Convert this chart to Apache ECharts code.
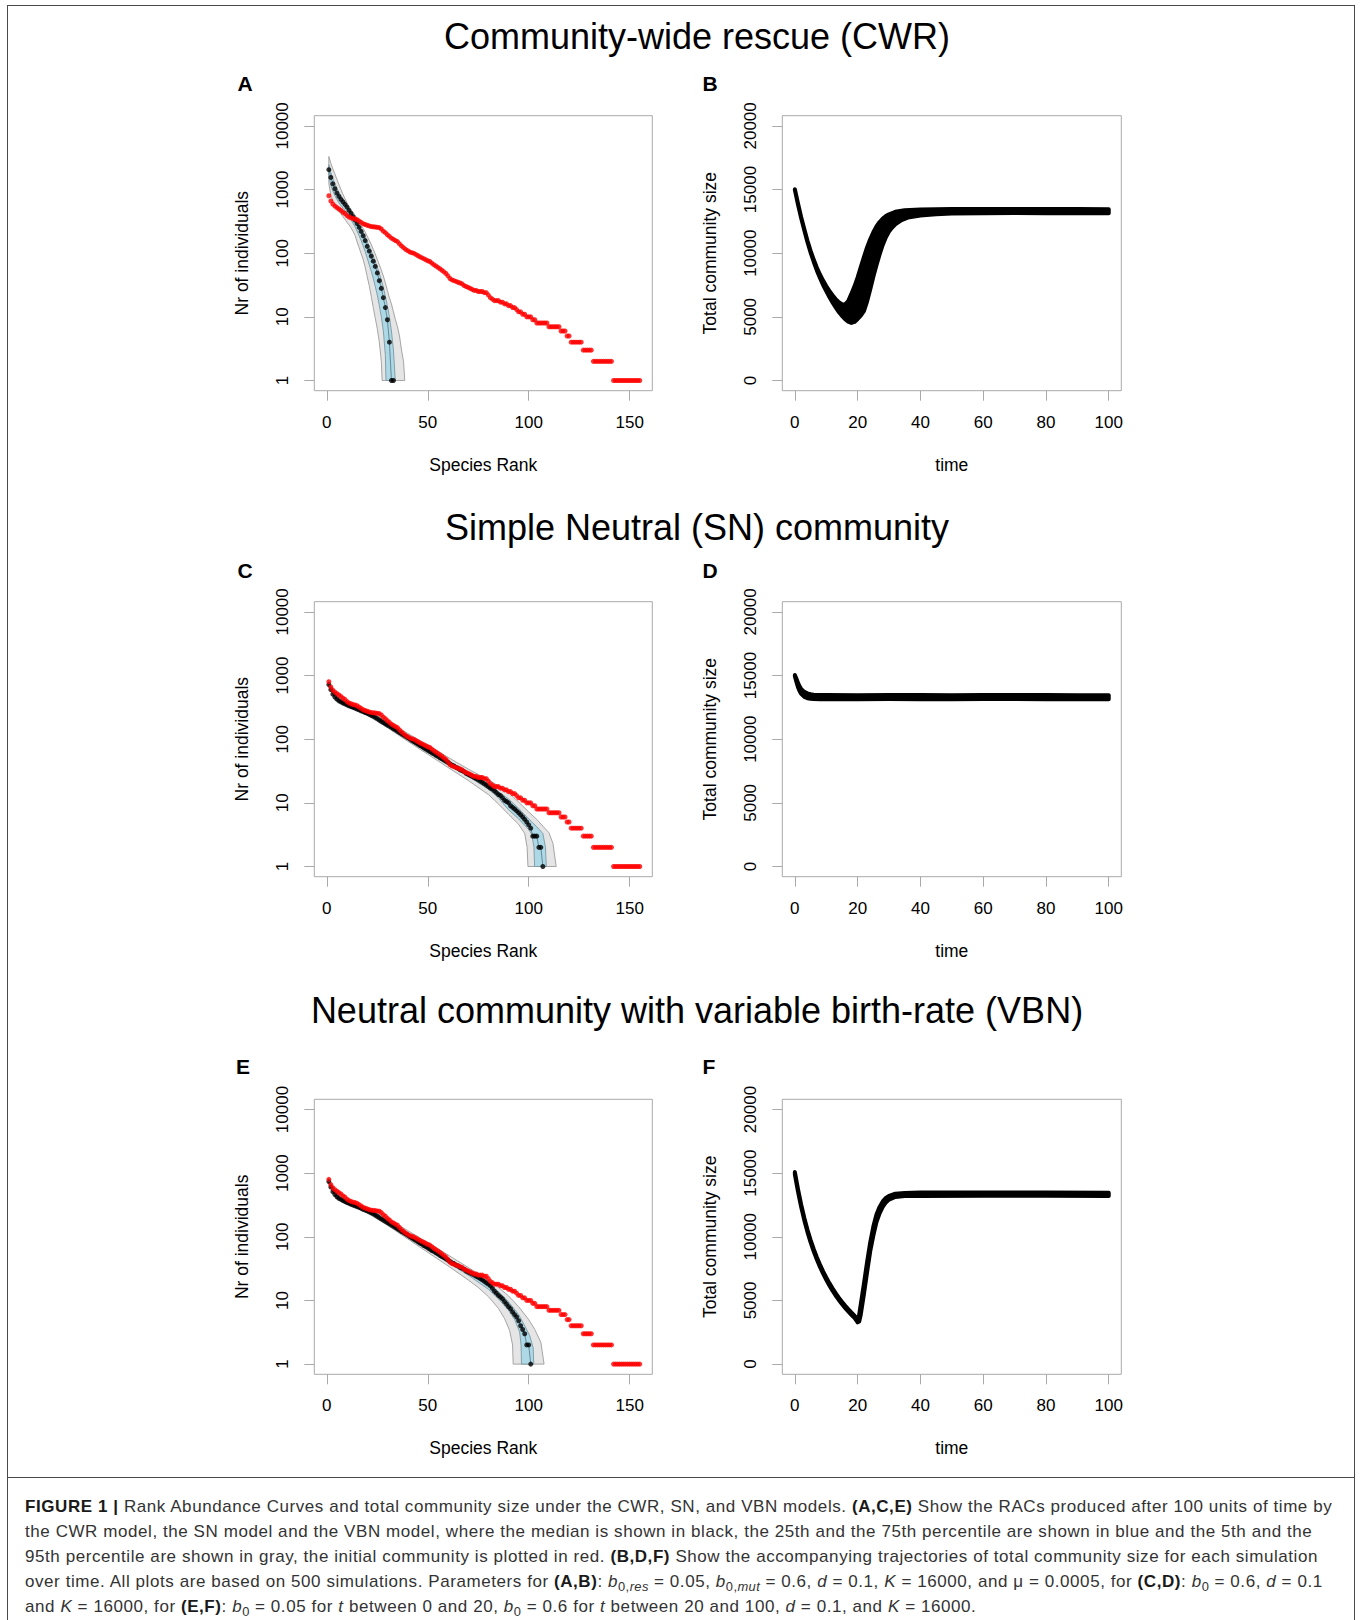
<!DOCTYPE html>
<html><head><meta charset="utf-8">
<script src="https://cdn.jsdelivr.net/npm/echarts@6/dist/echarts.min.js"></script>
<style>
html,body{margin:0;padding:0;background:#fff;}
#wrap{position:relative;width:1360px;height:1620px;overflow:hidden;background:#fff;}
#chart{position:absolute;left:0;top:0;width:1360px;height:1478px;}
#frame{position:absolute;left:7px;top:5px;width:1348px;height:1700px;border:1.5px solid #4a4a4a;box-sizing:border-box;pointer-events:none;}
#sep{position:absolute;left:7px;top:1477px;width:1348px;height:0;border-top:1.5px solid #4a4a4a;pointer-events:none;}
#caption{position:absolute;left:25px;top:1494px;font-family:'Liberation Sans',Arial,sans-serif;font-size:17px;letter-spacing:0.57px;line-height:25px;color:#333;}
#caption div{white-space:nowrap;}
#caption b{color:#1a1a1a;}
sub{font-size:76%;vertical-align:-0.3em;line-height:0;letter-spacing:0.4px;}
</style></head>
<body><div id="wrap">
<div id="chart"></div>
<div id="frame"></div><div id="sep"></div>
<div id="caption">
<div><b>FIGURE 1 |</b> Rank Abundance Curves and total community size under the CWR, SN, and VBN models. <b>(A,C,E)</b> Show the RACs produced after 100 units of time by</div>
<div>the CWR model, the SN model and the VBN model, where the median is shown in black, the 25th and the 75th percentile are shown in blue and the 5th and the</div>
<div>95th percentile are shown in gray, the initial community is plotted in red. <b>(B,D,F)</b> Show the accompanying trajectories of total community size for each simulation</div>
<div>over time. All plots are based on 500 simulations. Parameters for <b>(A,B)</b>: <i>b</i><sub>0,<i>res</i></sub> = 0.05, <i>b</i><sub>0,<i>mut</i></sub> = 0.6, <i>d</i> = 0.1, <i>K</i> = 16000, and μ = 0.0005, for <b>(C,D)</b>: <i>b</i><sub>0</sub> = 0.6, <i>d</i> = 0.1</div>
<div>and <i>K</i> = 16000, for <b>(E,F)</b>: <i>b</i><sub>0</sub> = 0.05 for <i>t</i> between 0 and 20, <i>b</i><sub>0</sub> = 0.6 for <i>t</i> between 20 and 100, <i>d</i> = 0.1, and <i>K</i> = 16000.</div>
</div>
</div>
<script>
// ---------------- data ----------------
const rankTicks = [0, 50, 100, 150];
const timeTicks = [0, 20, 40, 60, 80, 100];
const abundanceTicks = [1, 10, 100, 1000, 10000];
const sizeTicks = [0, 5000, 10000, 15000, 20000];
const rowTitles = ['Community-wide rescue (CWR)', 'Simple Neutral (SN) community', 'Neutral community with variable birth-rate (VBN)'];
const panelLetters = ['A', 'B', 'C', 'D', 'E', 'F'];

// initial community (red), abundance by rank 1..155
const initialCommunity = [
 800,660,590,550,520,495,470,440,420,390,370,360,350,345,335,320,305,290,282,275,
 268,262,260,258,255,252,240,222,210,195,184,172,165,158,152,140,130,122,115,110,
 105,102,100,96,92,88,85,82,79,76,74,70,66,63,60,57,54,51,48,44,
 40,38,37,36,35,34,33,31,30,29,28,27,26,26,25,25,25,24,24,22,
 20,19,18,18,18,17,17,16,16,15,15,14,14,13,12,12,11,11,10,10,
 10,9,9,8,8,8,8,8,8,7,7,7,7,7,7,6,6,6,5,5,
 4,4,4,4,4,4,3,3,3,3,3,2,2,2,2,2,2,2,2,2,
 2,1,1,1,1,1,1,1,1,1,1,1,1,1,1
];

// CWR (A): median and percentile bands, [rank, abundance]
const medianA = [2050,1550,1230,1030,880,780,700,640,585,530,470,420,375,330,292,255,220,188,158,128,
 108,90,75,62,49,37,28,20,14,9,4,1,1];
const q95A = [[1,3300],[2,2600],[3,2100],[4,1750],[5,1450],[6,1200],[7,1000],[8,840],[9,720],[10,620],[11,540],[12,480],[13,440],[14,395],[15,350],[16,310],[17,275],[18,245],[19,215],[20,185],[21,160],[22,138],[23,115],[24,97],[25,80],[26,66],[27,54],[28,44],[29,34],[30,26],[31,20],[32,16],[33,12],[34,9],[35,7],[36,5],[37,3],[38,2],[38.6,1]];
const q75A = [[1,2450],[2,1850],[3,1480],[4,1230],[5,1040],[6,900],[7,790],[8,710],[9,640],[10,575],[11,510],[12,455],[13,405],[14,360],[15,318],[16,280],[17,245],[18,212],[19,182],[20,152],[21,128],[22,108],[23,90],[24,74],[25,60],[26,48],[27,38],[28,29],[29,21],[30,15],[31,10],[32,6],[33,3],[33.9,1]];
const q25A = [[1,1650],[2,1150],[3,950],[4,800],[5,700],[6,620],[7,560],[8,510],[9,465],[10,420],[11,375],[12,335],[13,295],[14,258],[15,222],[16,188],[17,158],[18,130],[19,106],[20,84],[21,66],[22,52],[23,40],[24,30],[25,22],[26,15],[27,10],[28,6],[29,2.5],[29.3,1]];
const q05A = [[1,1250],[2,800],[3,660],[4,580],[5,510],[6,455],[7,415],[8,375],[9,340],[10,305],[11,278],[12,250],[13,220],[14,190],[15,150],[16,122],[17,98],[18,80],[19,60],[20,43],[21,31],[22,21],[23,14],[24,9.5],[25,6.5],[26,4],[27,2],[27.4,1]];

// SN (C)
const medianC = [720,600,510,460,425,400,385,370,358,346,335,325,316,307,298,289,280,271,263,255,
 246,238,230,220,210,200,191,183,175,167,160,153,146,140,133,127,121,116,111,106,
 101,96,92,88,84,80,77,73,70,67,64,61,59,56,54,51,49,47,45,43,
 41,39,38,36,35,33,32,31,29,28,27,26,25,24,23,22,21,20,19,18,
 17,16.5,15.5,14.5,13.5,13,12,11,10.5,10,9,8.5,8,7.5,7,6.5,6,5.5,5,4.5,
 4,3,3,3,2,2,1];
const q95C = [[1,800],[5,470],[10,372],[20,282],[30,190],[40,124],[50,80],[60,52],[70,34],[80,23],[85,18.5],[90,14.5],[95,10.3],[100,7.2],[104,5.5],[107,4.3],[110,3.4],[112,2.3],[113.6,1]];
const q75C = [[1,750],[5,445],[10,355],[20,266],[30,176],[40,113],[50,72],[60,46],[70,30],[80,20],[85,15],[90,11.5],[95,8.2],[100,5.6],[104,4.2],[107,3.3],[108.3,2],[108.7,1]];
const q25C = [[1,690],[5,410],[10,338],[20,248],[30,160],[40,100],[50,63],[60,40],[70,26],[80,16.5],[85,12],[87,10],[90,7.8],[95,5.6],[100,3.8],[101.5,3.2],[102.6,2],[102.9,1]];
const q05C = [[1,650],[5,400],[10,325],[20,238],[30,152],[40,93],[50,58],[60,36],[70,22.5],[80,13.5],[83,11],[85,9.6],[90,6.6],[95,4.6],[98,3.3],[99.2,2],[99.6,1]];

// VBN (E)
const medianE = [738,605,512,462,426,401,386,371,358,346,335,325,316,307,298,289,280,271,263,255,
 246,238,230,220,210,200,191,183,175,167,160,153,146,140,133,127,121,116,111,106,
 101,96,92,88,84,80,77,73,70,67,64,61,59,56,54,51,49,47,45,43,
 41,39,38,36,35,33,32,31,29,28,27,26,25,24,23,22,21,20,19,18,
 17,15.5,14,13,12,11.3,10.6,9.6,8.8,8,7.4,6.6,6,5.5,4.8,4,3.5,3,2,2,
 1];
const q95E = [[1,810],[5,475],[10,375],[20,284],[30,192],[40,126],[50,81],[60,52],[70,33],[80,21],[85,16],[90,11.8],[95,8],[100,5],[103,3.5],[106,2.2],[107.6,1]];
const q75E = [[1,760],[5,448],[10,357],[20,267],[30,177],[40,113],[50,72],[60,46],[70,29.5],[80,19],[85,13.8],[90,9.5],[95,6],[98,4],[100.5,2.8],[102.2,1.8],[102.5,1]];
const q25E = [[1,700],[5,412],[10,339],[20,249],[30,161],[40,100],[50,63],[60,39.5],[70,25],[80,15],[85,10.6],[90,7],[93,5],[95.5,3.2],[96.2,2],[96.4,1]];
const q05E = [[1,655],[5,400],[10,326],[20,238],[30,152],[40,93],[50,57],[60,35],[70,21],[75,16],[80,11.5],[85,7.5],[88,5.2],[90.5,3.4],[92,2],[92.3,1]];

// total community size envelopes over the 500 simulations, [time, size]
const upperB = [[0,15030],[1,13900],[2,12850],[3,11900],[4,11000],[5,10200],[6,9500],[7,8870],[8,8330],[9,7850],[10,7420],[11,7040],[12,6700],[13,6400],[14,6150],[15,5990],[16,5960],[17,6250],[18,6800],[19,7400],[20,8100],[21,8900],[22,9700],[23,10450],[24,11100],[25,11650],[26,12100],[27,12450],[28,12720],[29,12920],[30,13060],[32,13250],[35,13380],[40,13440],[50,13470],[60,13480],[70,13480],[80,13470],[90,13470],[100,13460]];
const lowerB = [[0,14970],[1,13820],[2,12760],[3,11800],[4,10880],[5,10060],[6,9330],[7,8650],[8,8050],[9,7500],[10,7020],[11,6560],[12,6130],[13,5740],[14,5380],[15,5080],[16,4820],[17,4620],[18,4520],[19,4600],[20,4830],[21,5100],[22,5450],[23,6200],[24,7150],[25,8150],[26,9050],[27,9900],[28,10650],[29,11250],[30,11700],[31,12020],[32,12270],[34,12600],[36,12800],[40,12960],[45,13060],[50,13110],[60,13140],[70,13150],[80,13140],[90,13140],[100,13140]];
const upperD = [[0,15050],[0.5,14750],[1,14420],[1.5,14150],[2,13950],[3,13720],[4,13600],[5,13530],[6,13500],[8,13480],[10,13470],[20,13460],[30,13470],[40,13470],[50,13460],[60,13470],[70,13470],[80,13470],[90,13460],[100,13460]];
const lowerD = [[0,14950],[0.5,14500],[1,14080],[1.5,13780],[2,13560],[3,13330],[4,13220],[5,13170],[6,13150],[8,13140],[10,13140],[20,13140],[30,13150],[40,13140],[50,13140],[60,13150],[70,13150],[80,13140],[90,13140],[100,13140]];
const upperF = [[0,15090],[1,13740],[2,12540],[3,11490],[4,10570],[5,9760],[6,9040],[7,8400],[8,7820],[9,7290],[10,6805],[11,6360],[12,5950],[13,5570],[14,5220],[15,4895],[16,4595],[17,4315],[18,4055],[19,3810],[20,3490],[20.5,3900],[21,4700],[22,6300],[23,8000],[24,9550],[25,10800],[26,11750],[27,12350],[28,12780],[29,13050],[30,13220],[32,13380],[35,13440],[40,13470],[60,13480],[80,13480],[100,13460]];
const lowerF = [[0,14910],[1,13560],[2,12360],[3,11310],[4,10390],[5,9580],[6,8860],[7,8220],[8,7640],[9,7110],[10,6625],[11,6180],[12,5770],[13,5390],[14,5040],[15,4715],[16,4415],[17,4135],[18,3875],[19,3630],[20,3280],[20.5,3350],[21,3900],[22,5500],[23,7200],[24,8850],[25,10100],[26,11150],[27,11850],[28,12350],[29,12700],[30,12920],[32,13130],[35,13200],[40,13210],[60,13220],[80,13220],[100,13200]];

// ---------------- layout ----------------
const FONT = '"Liberation Sans", Arial, Helvetica, sans-serif';
const GRAY = '#a9a9a9';
const COL_L = [314.3, 782.3], COL_W = [338, 339];
const ROW_T = [115.7, 601.7, 1099.3], ROW_H = 275;
const TITLE_Y = [36, 527, 1010];
const LETTER_POS = [[245, 83], [710, 83], [245, 570], [710, 570], [243, 1066], [709, 1066]];

const chart = echarts.init(document.getElementById('chart'), null, {renderer: 'svg'});
const plain = v => String(v);

const grids = [], xAxes = [], yAxes = [], series = [];
for (let r = 0; r < 3; r++) {
  for (let c = 0; c < 2; c++) {
    const i = r * 2 + c;
    grids.push({left: COL_L[c], top: ROW_T[r], width: COL_W[c], height: ROW_H, show: true,
      borderColor: GRAY, borderWidth: 1, backgroundColor: 'transparent', containLabel: false, outerBoundsMode: 'none'});
    const xt = c === 0 ? rankTicks : timeTicks;
    xAxes.push({gridIndex: i, type: 'value', min: c === 0 ? -6.2 : -4, max: c === 0 ? 161.2 : 104,
      axisLine: {show: false, onZero: false}, splitLine: {show: false},
      axisTick: {show: true, inside: false, length: 10, customValues: xt, lineStyle: {color: GRAY, width: 1}},
      axisLabel: {customValues: xt, formatter: plain, fontSize: 17, color: '#000', margin: 23, fontFamily: FONT},
      name: c === 0 ? 'Species Rank' : 'time', nameLocation: 'middle', nameGap: 65,
      nameTextStyle: {fontSize: 17.5, color: '#000', fontFamily: FONT}});
    const yt = c === 0 ? abundanceTicks : sizeTicks;
    const ya = {gridIndex: i, axisLine: {show: false, onZero: false}, splitLine: {show: false},
      axisTick: {show: true, inside: false, length: 10, customValues: yt, lineStyle: {color: GRAY, width: 1}},
      axisLabel: {customValues: yt, formatter: plain, fontSize: 17, color: '#000', margin: 23, rotate: 90, fontFamily: FONT},
      name: c === 0 ? 'Nr of individuals' : 'Total community size', nameLocation: 'middle', nameGap: 63,
      nameTextStyle: {fontSize: 17.5, color: '#000', fontFamily: FONT}};
    if (c === 0) { ya.type = 'log'; ya.logBase = 10; ya.min = 0.6918; ya.max = 14454; }
    else { ya.type = 'value'; ya.min = -800; ya.max = 20800; }
    yAxes.push(ya);
  }
}

function polygonSeries(idx, upper, lower, fill, stroke, lw, z) {
  return {type: 'custom', xAxisIndex: idx, yAxisIndex: idx, silent: true, z: z,
    data: [upper[0]],
    renderItem: function (params, api) {
      const pts = upper.concat(lower.slice().reverse()).map(p => api.coord(p));
      return {type: 'polygon', shape: {points: pts},
        style: {fill: fill, stroke: stroke, lineWidth: lw, lineJoin: 'round'}};
    }};
}
const toPairs = arr => arr.map((v, k) => [k + 1, v]);

function racPanel(idx, median, q05, q25, q75, q95) {
  series.push(polygonSeries(idx, q95, q05, '#e5e5e5', '#9c9c9c', 0.9, 1));
  series.push(polygonSeries(idx, q75, q25, '#add8e6', '#7d98a3', 0.9, 2));
  series.push({type: 'line', xAxisIndex: idx, yAxisIndex: idx, data: toPairs(median), showSymbol: false,
    silent: true, lineStyle: {color: '#5e7f8d', width: 0.9}, z: 3});
  series.push({type: 'scatter', xAxisIndex: idx, yAxisIndex: idx, data: toPairs(median), symbolSize: 5,
    silent: true, itemStyle: {color: '#000'}, z: 4});
  series.push({type: 'scatter', xAxisIndex: idx, yAxisIndex: idx, data: toPairs(initialCommunity), symbolSize: 5,
    silent: true, itemStyle: {color: '#ff0000'}, z: 5});
}
racPanel(0, medianA, q05A, q25A, q75A, q95A);
racPanel(2, medianC, q05C, q25C, q75C, q95C);
racPanel(4, medianE, q05E, q25E, q75E, q95E);
series.push(polygonSeries(1, upperB, lowerB, '#000', '#000', 4, 2));
series.push(polygonSeries(3, upperD, lowerD, '#000', '#000', 4, 2));
series.push(polygonSeries(5, upperF, lowerF, '#000', '#000', 4, 2));

const graphics = [];
rowTitles.forEach((t, r) => graphics.push({type: 'text', x: 697, y: TITLE_Y[r], silent: true,
  style: {text: t, fontSize: 36, fontFamily: FONT, fill: '#000', align: 'center', verticalAlign: 'middle', textAlign: 'center', textVerticalAlign: 'middle'}}));
panelLetters.forEach((t, i) => graphics.push({type: 'text', x: LETTER_POS[i][0], y: LETTER_POS[i][1], silent: true,
  style: {text: t, fontSize: 21, fontWeight: 'bold', fontFamily: FONT, fill: '#000', align: 'center', verticalAlign: 'middle', textAlign: 'center', textVerticalAlign: 'middle'}}));

chart.setOption({
  animation: false,
  backgroundColor: 'transparent',
  grid: grids, xAxis: xAxes, yAxis: yAxes, series: series, graphic: graphics
});
</script>
</body></html>
